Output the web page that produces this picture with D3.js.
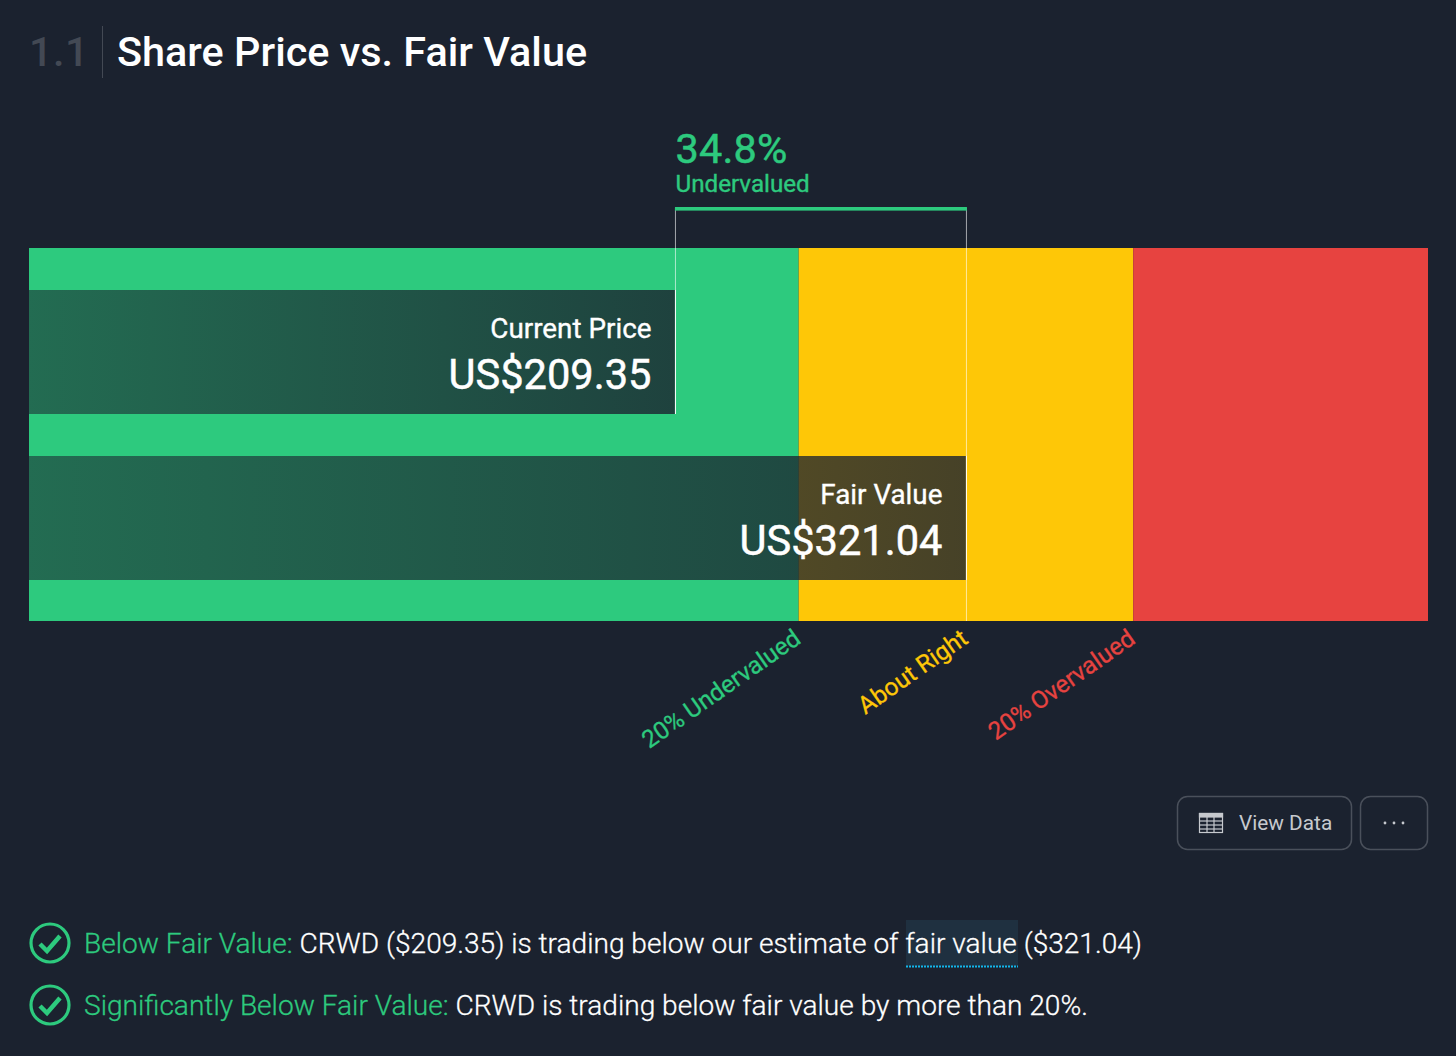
<!DOCTYPE html>
<html><head><meta charset="utf-8">
<script src="https://cdn.jsdelivr.net/npm/d3@7/dist/d3.min.js"></script>
<style>html,body{margin:0;padding:0;background:#1b222f;overflow:hidden}svg{display:block;font-family:Roboto,sans-serif}</style>
</head><body><svg id="c" width="1456" height="1056"></svg>
<script>
const currentPrice = 209.35;
const fairValue = 321.04;
const discountPct = 34.8;
const barNames = ["Current Price", "Fair Value"];
const barValues = [currentPrice, fairValue];
const zoneNames = ["undervalued", "aboutRight", "overvalued"];
const zoneEnds = [256.83, 385.25, 498.4];
const zoneColors = ["#2dca7e", "#fec707", "#e74340"];
const domainStart = -38.6;
const tickValues = [256.83, 321.04, 385.25];
const tickLabels = ["20% Undervalued", "About Right", "20% Overvalued"];
const tickColors = ["#2dca7e", "#fec707", "#e74340"];

const svg = d3.select("#c");
const x = d3.scaleLinear().domain([domainStart, 498.4]).range([29, 1428]);
const y = d3.scaleBand().domain(barNames).range([248, 622]).paddingInner(0.253).paddingOuter(0.253);
const defs = svg.append("defs");
const grad = defs.append("linearGradient").attr("id","barGrad");
grad.append("stop").attr("offset","0").attr("stop-color","#1b222f").attr("stop-opacity",0.56);
grad.append("stop").attr("offset","1").attr("stop-color","#1b222f").attr("stop-opacity",0.81);

// Title
svg.append("text").attr("x",29).attr("y",66).attr("font-size",41.4).attr("font-weight",500).attr("letter-spacing",0.5).attr("fill","#434954").text("1.1");
svg.append("rect").attr("x",102).attr("y",26).attr("width",1).attr("height",52).attr("fill","#434954");
svg.append("text").attr("x",117).attr("y",66).attr("font-size",41.4).attr("font-weight",500).attr("fill","#fff").text("Share Price vs. Fair Value");

// Zones
const starts = [domainStart, ...zoneEnds.slice(0,-1)];
svg.append("g").selectAll("rect").data(zoneNames).join("rect")
  .attr("x",(d,i)=>x(starts[i])).attr("width",(d,i)=>x(zoneEnds[i])-x(starts[i]))
  .attr("y",248).attr("height",373).attr("fill",(d,i)=>zoneColors[i]);

// Bars
svg.append("g").selectAll("rect").data(barNames).join("rect")
  .attr("x",x(domainStart)).attr("width",(d,i)=>x(barValues[i])-x(domainStart))
  .attr("y",d=>y(d)).attr("height",y.bandwidth()).attr("fill","url(#barGrad)");

// Guides
const guideTop = 208;
const guide = svg.append("g");
barValues.forEach((v,i)=>{
  guide.append("line").attr("x1",x(v)+0.5).attr("x2",x(v)+0.5).attr("y1",guideTop)
    .attr("y2", i===0 ? y(barNames[0])+y.bandwidth() : 621)
    .attr("stroke","#fff").attr("stroke-opacity",0.6).attr("stroke-width",1);
  guide.append("line").attr("x1",x(v)+0.5).attr("x2",x(v)+0.5).attr("y1",y(barNames[i])).attr("y2",y(barNames[i])+y.bandwidth())
    .attr("stroke","#fff").attr("stroke-opacity",0.9).attr("stroke-width",1);
});
svg.append("rect").attr("x",x(currentPrice)).attr("y",207).attr("width",x(fairValue)-x(currentPrice)+1).attr("height",3.6).attr("fill","#2dca7e");

// Discount label
svg.append("text").attr("x",x(currentPrice)+0.5).attr("y",163).attr("font-size",41.4).attr("font-weight",400).attr("fill","#2dca7e").attr("stroke","#2dca7e").attr("stroke-width",0.5).attr("letter-spacing",0.2).text(discountPct.toFixed(1)+"%");
svg.append("text").attr("x",x(currentPrice)+0.5).attr("y",192).attr("font-size",24.2).attr("font-weight",400).attr("fill","#2dca7e").attr("stroke","#2dca7e").attr("stroke-width",0.4).text("Undervalued");

// Bar labels
svg.append("g").selectAll("g").data(barNames).join("g").each(function(d,i){
  const g=d3.select(this), xr=x(barValues[i])-23.5, yt=y(d);
  g.append("text").attr("x",xr).attr("y",yt+48).attr("text-anchor","end").attr("font-size",27.8).attr("font-weight",400).attr("fill","#fff").attr("stroke","#fff").attr("stroke-width",0.35).text(d);
  g.append("text").attr("x",xr).attr("y",yt+99).attr("text-anchor","end").attr("font-size",41.6).attr("font-weight",400).attr("fill","#fff").attr("stroke","#fff").attr("stroke-width",0.5).text("US$"+barValues[i].toFixed(2));
});

// Threshold axis
const axis = d3.axisBottom(x).tickValues(tickValues).tickSize(0).tickFormat((d,i)=>tickLabels[i]);
const ag = svg.append("g").attr("transform","translate(0,621)").call(axis);
ag.select(".domain").remove();
ag.selectAll("text").attr("font-family","Roboto").attr("font-size",24.4).attr("font-weight",400)
  .attr("text-anchor","end").attr("dy",0).attr("y",0)
  .attr("transform","translate(3,21) rotate(-35)")
  .attr("fill",(d,i)=>tickColors[i]).attr("stroke",(d,i)=>tickColors[i]).attr("stroke-width",0.3);

// Buttons
const btnStroke="#4a505b", btnText="#c6c9ce";
svg.append("rect").attr("x",1177.5).attr("y",796.5).attr("width",174).attr("height",53).attr("rx",10).attr("fill","none").attr("stroke",btnStroke).attr("stroke-width",1.5);
svg.append("rect").attr("x",1360.5).attr("y",796.5).attr("width",67).attr("height",53).attr("rx",10).attr("fill","none").attr("stroke",btnStroke).attr("stroke-width",1.5);
const ic=svg.append("g").attr("stroke",btnText).attr("fill","none").attr("stroke-width",1.2);
ic.append("rect").attr("x",1199.5).attr("y",813.5).attr("width",23).attr("height",19);
ic.append("rect").attr("x",1199.5).attr("y",813.5).attr("width",23).attr("height",3.5).attr("fill",btnText);
[821,825,829].forEach(v=>ic.append("line").attr("x1",1200).attr("x2",1222).attr("y1",v).attr("y2",v));
[1207,1214].forEach(v=>ic.append("line").attr("x1",v).attr("x2",v).attr("y1",817).attr("y2",832));
svg.append("text").attr("x",1239).attr("y",830).attr("font-size",20.8).attr("fill",btnText).text("View Data");
[1385,1394,1403].forEach(v=>svg.append("circle").attr("cx",v).attr("cy",823).attr("r",1.4).attr("fill",btnText));

// Checks
function check(cy){
  const g=svg.append("g").attr("fill","none").attr("stroke","#2dca7e");
  g.append("circle").attr("cx",50).attr("cy",cy).attr("r",19).attr("stroke-width",3.2);
  g.append("path").attr("d",`M${40} ${cy+1}L${47} ${cy+8}L${60} ${cy-7}`).attr("stroke-width",4.5);
}
check(943);check(1005);
svg.append("rect").attr("x",906).attr("y",920).attr("width",112).attr("height",46).attr("fill","#1f3040");
svg.append("line").attr("x1",906).attr("x2",1018).attr("y1",966.5).attr("y2",966.5).attr("stroke","#13b5ea").attr("stroke-width",2).attr("stroke-dasharray","2 1");
function sentence(yPos, lead, rest){
  const t=svg.append("text").attr("x",84).attr("y",yPos).attr("font-size",28.08).attr("font-weight",300).attr("stroke-width",0.3);
  t.append("tspan").attr("fill","#2dca7e").attr("stroke","#2dca7e").text(lead);
  t.append("tspan").attr("fill","#fff").attr("stroke","#fff").text(rest);
}
sentence(953,"Below Fair Value: ","CRWD ($209.35) is trading below our estimate of fair value ($321.04)");
sentence(1015,"Significantly Below Fair Value: ","CRWD is trading below fair value by more than 20%.");
</script></body></html>
